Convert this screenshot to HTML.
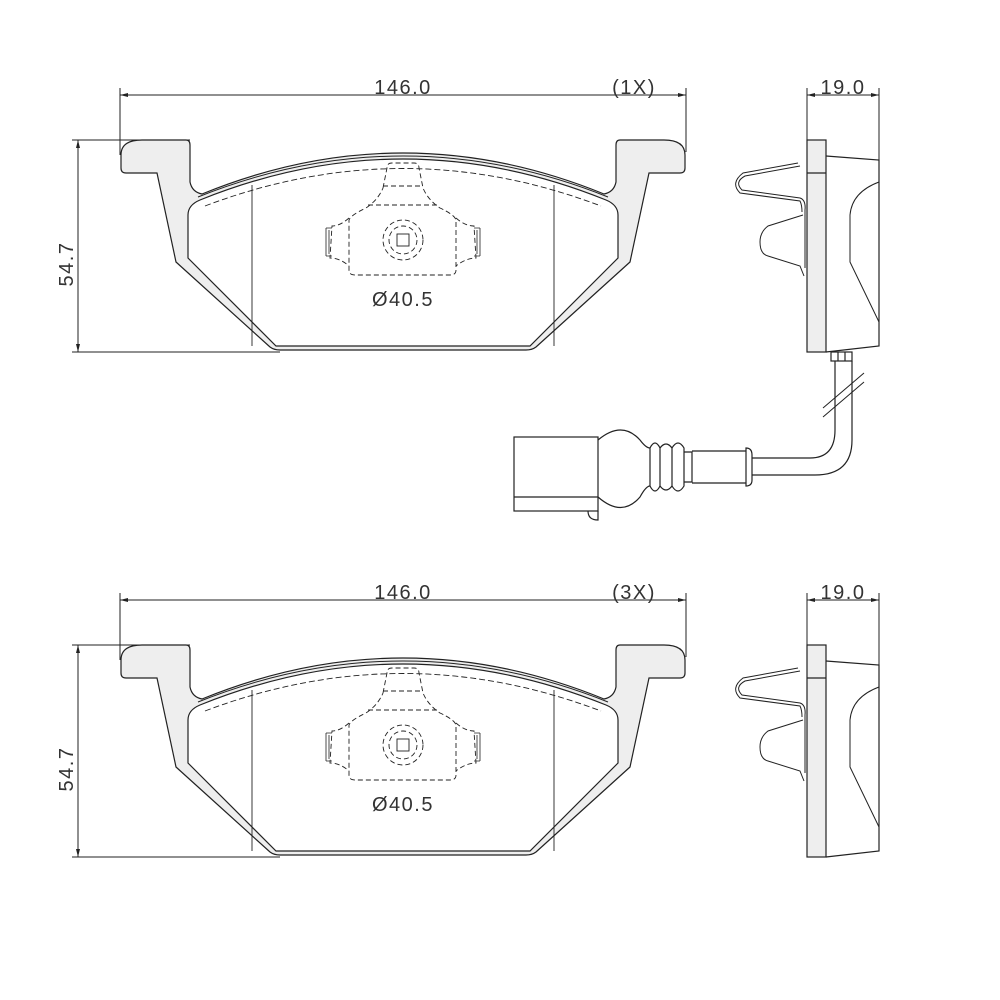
<!DOCTYPE html>
<html><head><meta charset="utf-8"><style>
html,body{margin:0;padding:0;background:#fff;}
svg{display:block;}
text{font-family:"Liberation Sans",sans-serif;fill:#333;}
</style></head><body>
<svg width="1000" height="1000" viewBox="0 0 1000 1000" xmlns="http://www.w3.org/2000/svg">
<g fill="none" stroke="#222" stroke-width="1.2">
<path d="M121,155 Q121,140 142,140 L186,140 Q190,140 190,145 L190,182 Q192,192 202,194 Q403,112 604,194 Q614,192 616,182 L616,145 Q616,140 620,140 L664,140 Q685,140 685,155 L685,168 Q685,173 680,173 L649,173 L630,262 L536,347 Q532,350 526,350 L280,350 Q274,350 270,347 L176,262 L157,173 L126,173 Q121,173 121,168 Z" fill="#eeeeee"/>
<path d="M200,200 Q403,118 606,200 Q618,205 618,215 L618,258 L530,346 L276,346 L188,258 L188,215 Q188,205 200,200 Z" fill="#fff"/>
<path d="M198,197 Q403,115 608,197" stroke-width="1"/>
<path d="M205,206 Q403,131 601,206" stroke-dasharray="6,3" stroke-width="0.9"/>
<line x1="252" y1="185" x2="252" y2="346" stroke-width="0.9"/>
<line x1="554" y1="185" x2="554" y2="346" stroke-width="0.9"/>
<g stroke-dasharray="5,3" stroke-width="0.9">
<path d="M383,188 L387,168 Q387,163 392,163 L414,163 Q419,163 419,168 L423,188 Q428,200 440,208 Q455,215 456,220 L456,270 Q456,275 450,275 L355,275 Q349,275 349,270 L349,220 Q351,215 366,208 Q378,200 383,188 Z"/>
<line x1="383" y1="186" x2="423" y2="186"/>
<line x1="368" y1="205" x2="438" y2="205"/>
<path d="M349,218 Q340,226 332,226 L330,258 Q340,258 349,266"/>
<path d="M456,218 Q465,226 474,226 L476,258 Q466,258 456,266"/>
<circle cx="403" cy="240" r="20"/>
<circle cx="403" cy="240" r="14"/>
</g>
<rect x="397" y="234" width="12" height="12" stroke-width="0.9"/>
<path d="M326,228 L332,228 M326,256 L332,256 M326,228 L326,256 M329,230 L329,254" stroke-width="0.8"/>
<path d="M480,228 L474,228 M480,256 L474,256 M480,228 L480,256 M477,230 L477,254" stroke-width="0.8"/>
<rect x="807" y="140" width="19" height="212" fill="#eeeeee"/>
<line x1="807" y1="173" x2="826" y2="173"/>
<path d="M826,156 L879,160 L879,346 L826,352"/>
<path d="M879,182 Q852,192 850,215 L850,262 L879,322" stroke-width="1"/>
<path d="M800,166 L745,176 Q734,182 742,190 L800,198 Q806,200 805,210 L805,268" stroke-width="1"/>
<path d="M798,163 L743,173 Q730,183 740,193 L800,201 Q802,205 802,212" stroke-width="1"/>
<path d="M803,215 L768,226 Q760,232 760,242 Q760,254 768,256 L800,266 L804,276" stroke-width="1"/>
</g>
<g fill="none" stroke="#222" stroke-width="1.2" transform="translate(0,505)">
<path d="M121,155 Q121,140 142,140 L186,140 Q190,140 190,145 L190,182 Q192,192 202,194 Q403,112 604,194 Q614,192 616,182 L616,145 Q616,140 620,140 L664,140 Q685,140 685,155 L685,168 Q685,173 680,173 L649,173 L630,262 L536,347 Q532,350 526,350 L280,350 Q274,350 270,347 L176,262 L157,173 L126,173 Q121,173 121,168 Z" fill="#eeeeee"/>
<path d="M200,200 Q403,118 606,200 Q618,205 618,215 L618,258 L530,346 L276,346 L188,258 L188,215 Q188,205 200,200 Z" fill="#fff"/>
<path d="M198,197 Q403,115 608,197" stroke-width="1"/>
<path d="M205,206 Q403,131 601,206" stroke-dasharray="6,3" stroke-width="0.9"/>
<line x1="252" y1="185" x2="252" y2="346" stroke-width="0.9"/>
<line x1="554" y1="185" x2="554" y2="346" stroke-width="0.9"/>
<g stroke-dasharray="5,3" stroke-width="0.9">
<path d="M383,188 L387,168 Q387,163 392,163 L414,163 Q419,163 419,168 L423,188 Q428,200 440,208 Q455,215 456,220 L456,270 Q456,275 450,275 L355,275 Q349,275 349,270 L349,220 Q351,215 366,208 Q378,200 383,188 Z"/>
<line x1="383" y1="186" x2="423" y2="186"/>
<line x1="368" y1="205" x2="438" y2="205"/>
<path d="M349,218 Q340,226 332,226 L330,258 Q340,258 349,266"/>
<path d="M456,218 Q465,226 474,226 L476,258 Q466,258 456,266"/>
<circle cx="403" cy="240" r="20"/>
<circle cx="403" cy="240" r="14"/>
</g>
<rect x="397" y="234" width="12" height="12" stroke-width="0.9"/>
<path d="M326,228 L332,228 M326,256 L332,256 M326,228 L326,256 M329,230 L329,254" stroke-width="0.8"/>
<path d="M480,228 L474,228 M480,256 L474,256 M480,228 L480,256 M477,230 L477,254" stroke-width="0.8"/>
<rect x="807" y="140" width="19" height="212" fill="#eeeeee"/>
<line x1="807" y1="173" x2="826" y2="173"/>
<path d="M826,156 L879,160 L879,346 L826,352"/>
<path d="M879,182 Q852,192 850,215 L850,262 L879,322" stroke-width="1"/>
<path d="M800,166 L745,176 Q734,182 742,190 L800,198 Q806,200 805,210 L805,268" stroke-width="1"/>
<path d="M798,163 L743,173 Q730,183 740,193 L800,201 Q802,205 802,212" stroke-width="1"/>
<path d="M803,215 L768,226 Q760,232 760,242 Q760,254 768,256 L800,266 L804,276" stroke-width="1"/>
</g>
<g stroke="#222" fill="none" stroke-width="1">
<line x1="120" y1="88" x2="120" y2="155"/><line x1="686" y1="88" x2="686" y2="152"/>
<line x1="120" y1="95" x2="686" y2="95"/>
<line x1="72" y1="140" x2="190" y2="140"/><line x1="72" y1="352" x2="280" y2="352"/>
<line x1="78" y1="140" x2="78" y2="352"/>
<line x1="807" y1="88" x2="807" y2="140"/><line x1="879" y1="88" x2="879" y2="160"/>
<line x1="807" y1="95" x2="879" y2="95"/>
<line x1="120" y1="593" x2="120" y2="660"/><line x1="686" y1="593" x2="686" y2="657"/>
<line x1="120" y1="600" x2="686" y2="600"/>
<line x1="72" y1="645" x2="190" y2="645"/><line x1="72" y1="857" x2="280" y2="857"/>
<line x1="78" y1="645" x2="78" y2="857"/>
<line x1="807" y1="593" x2="807" y2="645"/><line x1="879" y1="593" x2="879" y2="665"/>
<line x1="807" y1="600" x2="879" y2="600"/>
</g>
<g fill="#222">
<path d="M120,95 l8,-2 v4z"/><path d="M686,95 l-8,-2 v4z"/>
<path d="M78,140 l-2,8 h4z"/><path d="M78,352 l-2,-8 h4z"/>
<path d="M807,95 l8,-2 v4z"/><path d="M879,95 l-8,-2 v4z"/>
<path d="M120,600 l8,-2 v4z"/><path d="M686,600 l-8,-2 v4z"/>
<path d="M78,645 l-2,8 h4z"/><path d="M78,857 l-2,-8 h4z"/>
<path d="M807,600 l8,-2 v4z"/><path d="M879,600 l-8,-2 v4z"/>
</g>
<g fill="none" stroke="#222" stroke-width="1.2">
<rect x="831" y="352" width="21" height="9"/>
<line x1="838" y1="352" x2="838" y2="361"/><line x1="845" y1="352" x2="845" y2="361"/>
<path d="M835,361 L835,430 Q835,458 810,458 L752,458"/>
<path d="M852,361 L852,440 Q852,475 815,475 L752,475"/>
<path d="M823,408 L864,373 M823,417 L864,382" stroke-width="1"/>
<rect x="514" y="437" width="84" height="74"/>
<line x1="514" y1="497" x2="598" y2="497"/>
<path d="M588,511 Q588,520 598,520 L598,511"/>
<path d="M598,440 Q622,420 640,440 Q646,448 650,448 M598,497 Q622,518 640,497 Q646,486 650,486"/>
<path d="M650,448 Q655,438 660,448 L660,486 Q655,496 650,486 Z"/>
<path d="M660,448 Q666,440 672,448 Q678,438 684,448 L684,486 Q678,496 672,486 Q666,494 660,486"/>
<line x1="672" y1="448" x2="672" y2="486"/>
<path d="M684,452 L692,452 L692,482 L684,482"/>
<line x1="692" y1="451" x2="746" y2="451"/><line x1="692" y1="483" x2="746" y2="483"/>
<path d="M746,448 Q752,448 752,455 L752,480 Q752,486 746,486 Z"/>
</g>
<g font-size="20" text-anchor="middle" letter-spacing="1.5">
<text x="403" y="94">146.0</text>
<text x="634" y="94">(1X)</text>
<text x="843" y="94">19.0</text>
<text x="403" y="306">Ø40.5</text>
<text x="403" y="599">146.0</text>
<text x="634" y="599">(3X)</text>
<text x="843" y="599">19.0</text>
<text x="403" y="811">Ø40.5</text>
<text transform="translate(73,264) rotate(-90)">54.7</text>
<text transform="translate(73,769) rotate(-90)">54.7</text>
</g>
</svg>
</body></html>
